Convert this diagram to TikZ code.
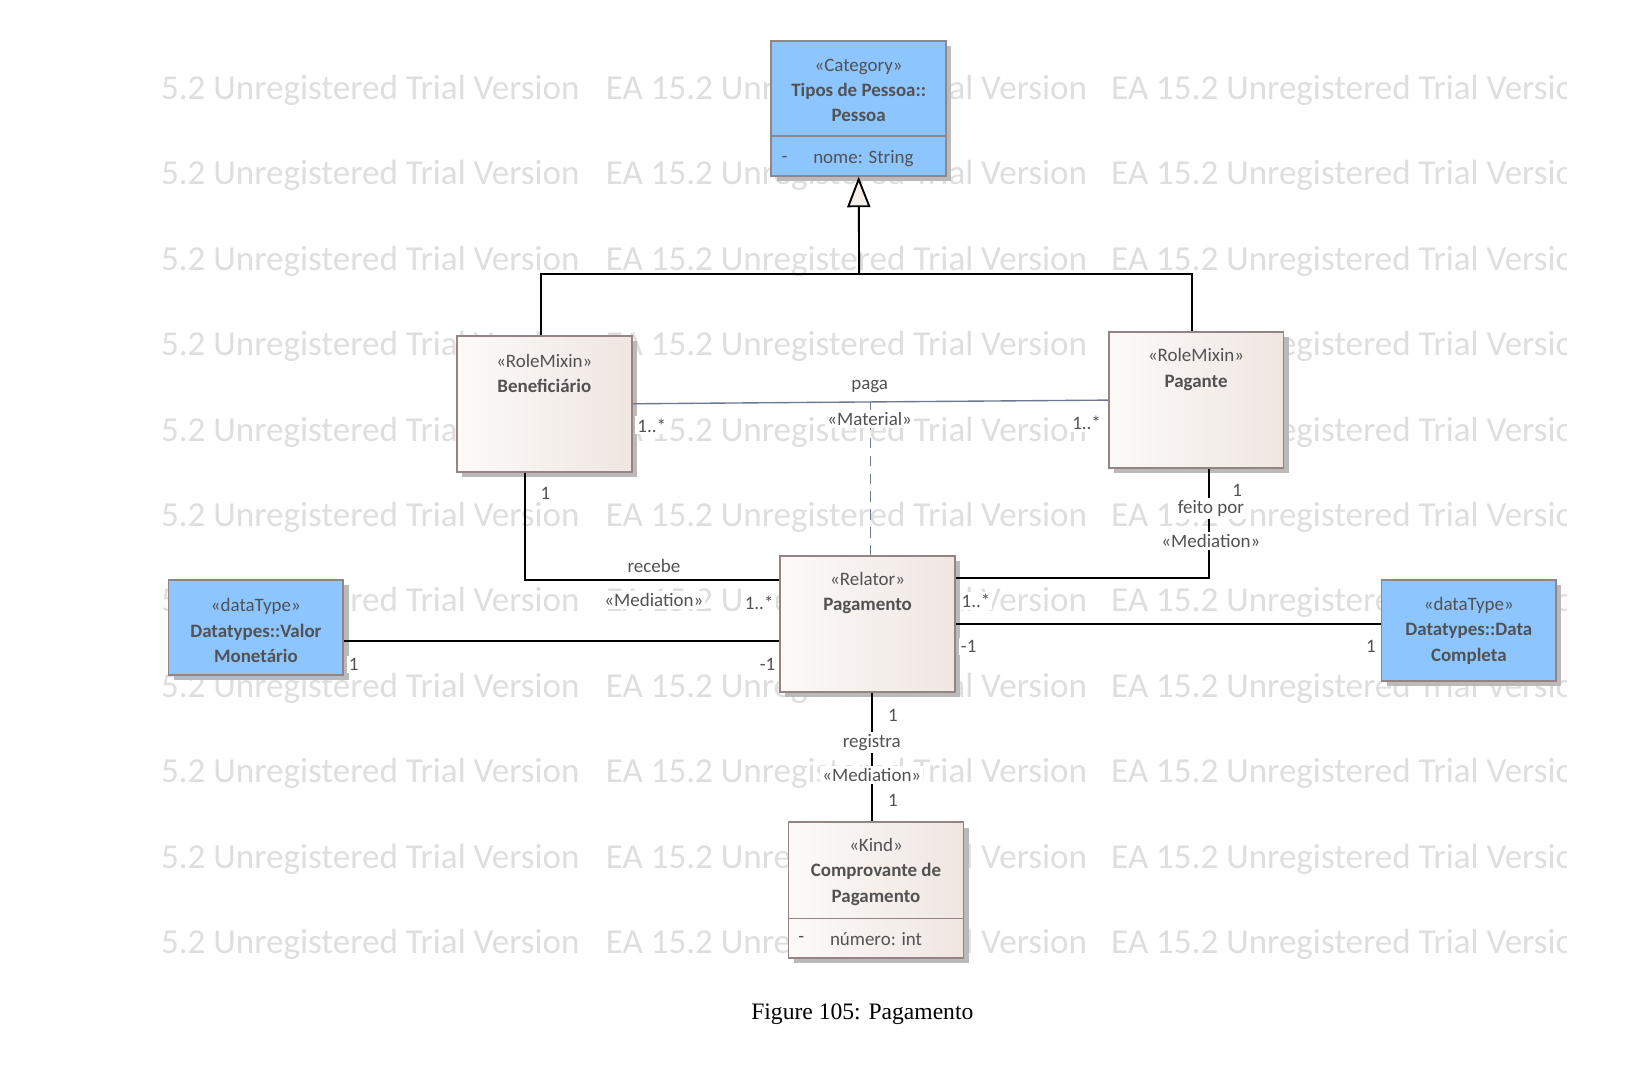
\documentclass[tikz,border=0pt]{standalone}
\usepackage{fontspec}
\setmainfont{Carlito}
\newfontfamily\capfont{Liberation Serif}
\usetikzlibrary{arrows.meta, positioning, calc, shadows}

\definecolor{boxedge}{RGB}{150,132,132}
\definecolor{dtblue}{RGB}{141,197,255}
\definecolor{rolel}{RGB}{253,250,248}
\definecolor{roler}{RGB}{239,230,225}
\definecolor{txt}{RGB}{82,82,82}
\definecolor{wmark}{RGB}{222,222,222}
\definecolor{matline}{RGB}{108,120,146}
\definecolor{tipfill}{RGB}{245,240,236}

\begin{document}
\begin{tikzpicture}[x=0.5pt, y=-0.5pt, font=\fontsize{9}{12}\selectfont, text=txt]
	\tikzset{
		box/.style={draw=boxedge, line width=0.8pt, minimum width=83pt, inner sep=0pt,
			drop shadow={shadow xshift=2.5pt, shadow yshift=-2.5pt, fill=black!27, opacity=1}},
		rolebox/.style={box, left color=rolel, right color=roler, minimum height=64.5pt},
		dtbox/.style={box, fill=dtblue},
		boxtext/.style={align=center, inner sep=0pt},
		lbl/.style={fill=white, inner sep=1pt},
		assoc/.style={draw=black, line width=0.9pt},
		material/.style={draw=matline, line width=0.65pt},
		wm/.style={text=wmark, font=\fontsize{16.65}{16.65}\selectfont, anchor=base west, inner sep=0pt}
	}
	\useasboundingbox (0,0) rectangle (1569,1010.6);
	\begin{scope}
		\clip (152,0) rectangle (1488,1010);
		\foreach \r in {0,...,10}
			\foreach \c in {93,575,1055}
				\node[wm] (wm-\r-\c) at (\c,94.5+81.1*\r) {EA 15.2 Unregistered Trial Version};
	\end{scope}

	\node[dtbox, minimum height=64pt] (pessoa) at (815.5,103) {};
	\node[rolebox] (benef) at (517,383.5) {};
	\node[rolebox] (pagante) at (1136,380) {};
	\node[rolebox] (pagam) at (824,592.5) {};
	\node[dtbox, minimum height=45pt] (valor) at (243,596) {};
	\node[dtbox, minimum height=48pt] (datac) at (1395,599) {};
	\node[rolebox] (compr) at (832,845.5) {};

	\draw[boxedge, line width=0.8pt] ([yshift=-45.5pt]pessoa.north west) -- ([yshift=-45.5pt]pessoa.north east);
	\draw[boxedge, line width=0.8pt] ([yshift=-46pt]compr.north west) -- ([yshift=-46pt]compr.north east);

	\node[boxtext] (pessoa-t) at (815.5,86) {«Category»\\\textbf{Tipos de Pessoa::}\\\textbf{Pessoa}};
	\node[boxtext] (pessoa-v) at (745,151) {-};
	\node[boxtext] (pessoa-a) at (820,151) {nome: String};
	\node[boxtext] (benef-t) at (517,355) {«RoleMixin»\\\textbf{Beneficiário}};
	\node[boxtext] (pagante-t) at (1136,351) {«RoleMixin»\\\textbf{Pagante}};
	\node[boxtext] (pagam-t) at (824,563) {«Relator»\\\textbf{Pagamento}};
	\node[boxtext] (valor-t) at (243,599) {«dataType»\\\textbf{Datatypes::Valor}\\\textbf{Monetário}};
	\node[boxtext] (datac-t) at (1395,599) {«dataType»\\\textbf{Datatypes::Data}\\\textbf{Completa}};
	\node[boxtext] (compr-t) at (832,828) {«Kind»\\\textbf{Comprovante de}\\\textbf{Pagamento}};
	\node[boxtext] (compr-v) at (761,892) {-};
	\node[boxtext] (compr-a) at (832,892) {número: int};

	\coordinate (genjoin) at (816,260);
	\draw[assoc] ([xshift=-1.5pt]benef.north) |- (genjoin) -| ([xshift=-2pt]pagante.north);
	\draw[assoc, -{Triangle[length=14.5pt, width=11pt, fill=tipfill]}] (genjoin) -- (pessoa.south);

	\draw[material] (benef.east) -- coordinate[pos=0.5] (pagamid) (pagante.west);
	\draw[material, dash pattern=on 5pt off 3.5pt] (pagamid) -- (pagamid |- pagam.north);

	\draw[assoc] ([xshift=-9pt]benef.south) |- ([yshift=20.75pt]pagam.west);
	\draw[assoc] ([xshift=6pt]pagante.south) |- ([yshift=21.75pt]pagam.east);
	\draw[assoc] ([yshift=-6.5pt]valor.east) -- ([yshift=-6.5pt]valor.east -| pagam.west);
	\draw[assoc] (pagam.east) -- (pagam.east -| datac.west);
	\draw[assoc] ([xshift=2pt]pagam.south) -- ([xshift=2pt]pagam.south |- compr.north);

	\node[lbl] (paga) at (826,367) {paga};
	\node[lbl] (paga-s) at (826,398) {«Material»};
	\node[lbl] (paga-m1) at (619,404) {1..*};
	\node[lbl] (paga-m2) at (1032,402) {1..*};
	\node[lbl] (rec-m1) at (518,469) {1};
	\node[lbl] (rec) at (621,538) {recebe};
	\node[lbl] (rec-s) at (621,570) {«Mediation»};
	\node[lbl] (rec-m2) at (721,573) {1..*};
	\node[lbl] (feito-m1) at (1175,466) {1};
	\node[lbl] (feito) at (1150,483) {feito por};
	\node[lbl] (feito-s) at (1150,514) {«Mediation»};
	\node[lbl] (feito-m2) at (927,571) {1..*};
	\node[lbl] (valor-m1) at (336,631) {1};
	\node[lbl] (valor-m2) at (729,631) {-1};
	\node[lbl] (data-m1) at (920,614) {-1};
	\node[lbl] (data-m2) at (1302,614) {1};
	\node[lbl] (reg-m1) at (848,679) {1};
	\node[lbl] (reg) at (828,705) {registra};
	\node[lbl] (reg-s) at (828,736) {«Mediation»};
	\node[lbl] (reg-m2) at (848,760) {1};

	\node[text=black, font=\capfont\fontsize{11.2}{13}\selectfont] (caption) at (819,963) {Figure 105: Pagamento};
\end{tikzpicture}
\end{document}
